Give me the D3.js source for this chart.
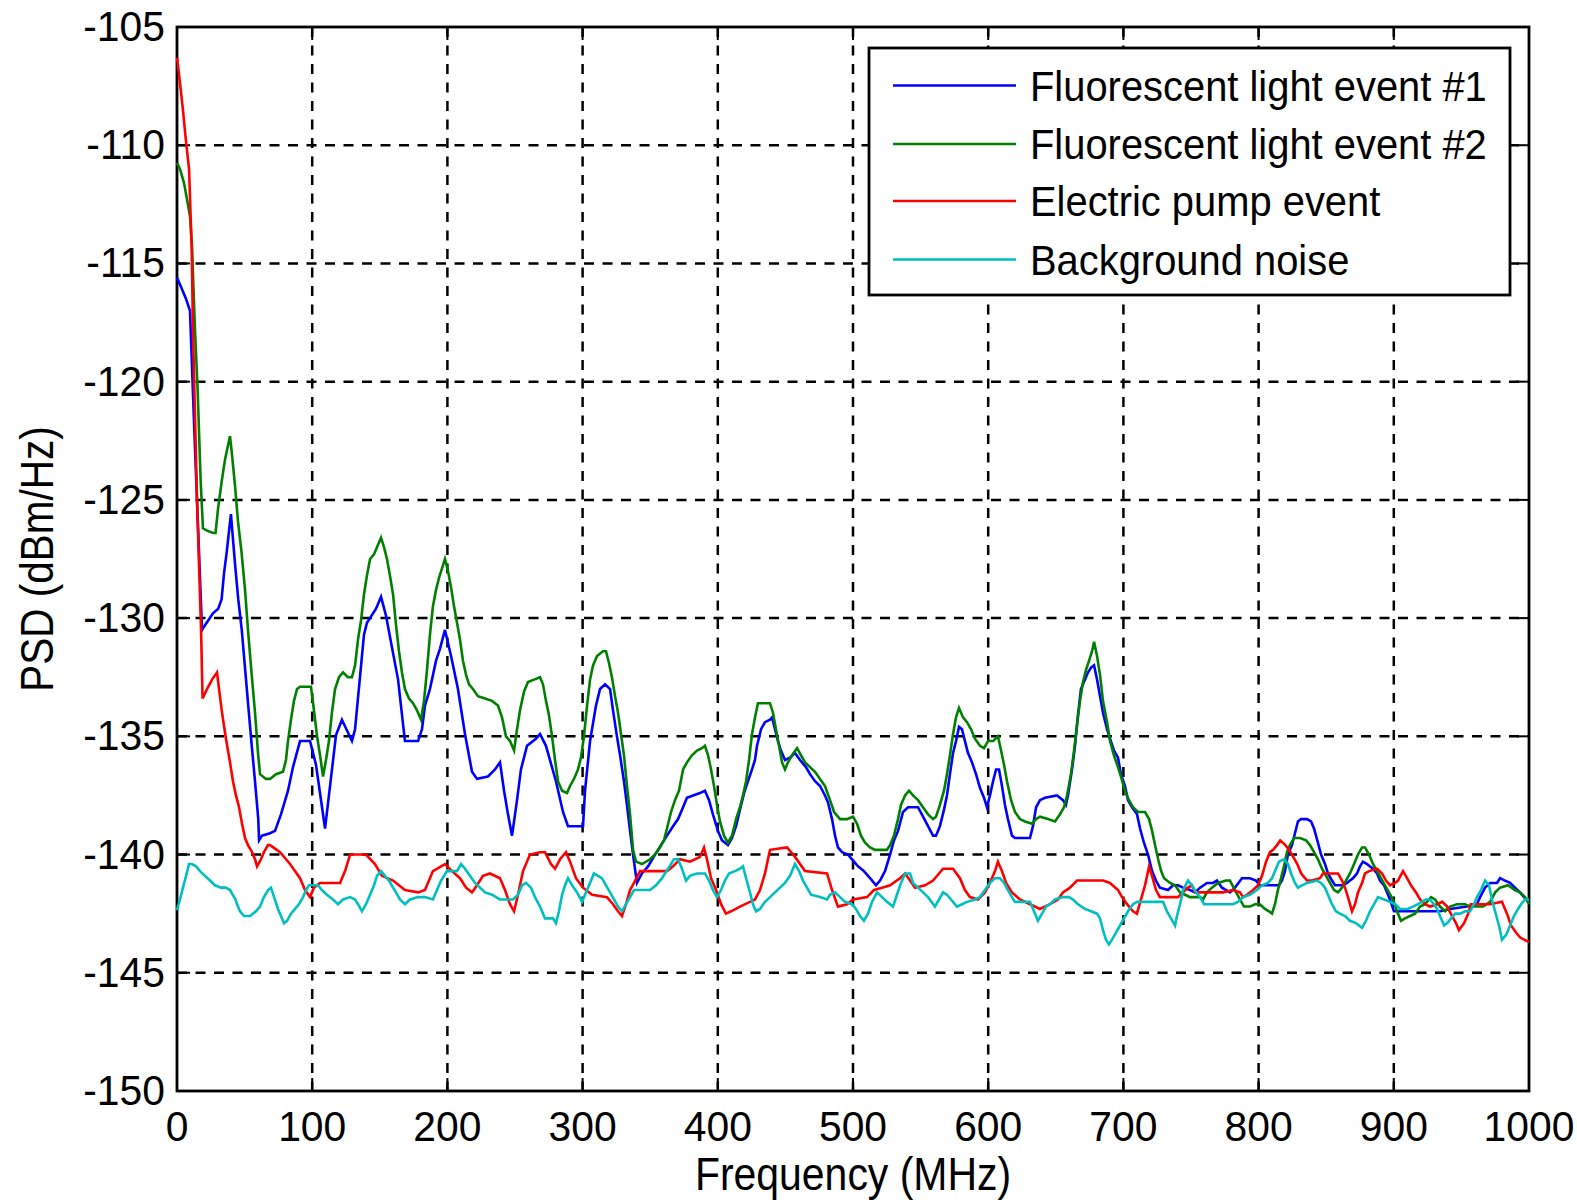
<!DOCTYPE html>
<html>
<head>
<meta charset="utf-8">
<script src="https://cdn.jsdelivr.net/npm/d3@7"></script>
<style>
  html, body { margin: 0; padding: 0; background: #fff; }
  text { font-family: "Liberation Sans", Arial, sans-serif; fill: #000; }
</style>
</head>
<body>
<div id="chart"></div>
<script>
// PSD traces, [MHz, dBm/Hz]
const fluor1 = [[0,-115.6],[3,-116.0],[6.7,-116.5],[9.6,-117.0],[12.9,-122.2],[18.5,-130.5],[20.7,-130.3],[26.6,-129.8],[30.5,-129.6],[33,-129.2],[34.8,-128.1],[36.8,-127.2],[38.7,-126.2],[39.9,-125.6],[42.9,-127.7],[45.3,-129.2],[47.9,-130.5],[50.3,-132.1],[52.7,-133.7],[55.3,-135.4],[57.7,-136.9],[60.1,-138.5],[60.7,-139.4],[62.9,-139.2],[68.8,-139.1],[72.5,-139.0],[76.9,-138.3],[82.1,-137.3],[85.8,-136.3],[91,-135.2],[98.4,-135.2],[102.8,-136.2],[109.5,-138.9],[117.6,-134.95],[122,-134.3],[129.4,-135.2],[131.7,-134.7],[138.3,-130.7],[140.5,-130.2],[147.2,-129.6],[150.9,-129.1],[154.6,-129.9],[163.5,-132.6],[168.6,-135.2],[178.3,-135.2],[181.2,-134.7],[183.4,-133.7],[187.1,-133.0],[191.6,-131.8],[194.5,-131.3],[198.2,-130.5],[202.7,-131.6],[207.8,-133.0],[213,-134.9],[218.2,-136.5],[221.9,-136.8],[230,-136.7],[235.2,-136.4],[238.9,-136.1],[241.9,-137.3],[244.8,-138.3],[247.8,-139.2],[251.5,-137.7],[254.4,-136.4],[258.9,-135.4],[265.5,-135.1],[268.5,-134.9],[272.9,-135.4],[280.3,-136.9],[285.5,-138.2],[289.2,-138.8],[300.3,-138.8],[301.8,-137.3],[305.5,-135.2],[309.9,-133.7],[312.9,-133.0],[316.6,-132.8],[320.3,-133.0],[322.5,-133.9],[325.4,-135.0],[327.7,-135.8],[330.6,-136.9],[332.8,-137.9],[335.1,-139.0],[337.3,-140.0],[340.2,-141.2],[343.9,-140.8],[348.4,-140.5],[353.6,-140.0],[358,-139.6],[362.4,-139.2],[366.9,-138.8],[370.6,-138.5],[374.3,-138.0],[377.2,-137.6],[381.7,-137.5],[386.8,-137.4],[390.5,-137.3],[393.5,-137.7],[396.4,-138.3],[400.1,-139.0],[403.1,-139.4],[407.5,-139.6],[410.5,-139.3],[413.5,-138.8],[416.4,-138.1],[419.4,-137.4],[422.3,-136.9],[425.3,-136.4],[427.5,-136.0],[429,-135.4],[432,-134.7],[434.9,-134.4],[438.6,-134.3],[440.1,-134.2],[442.3,-134.7],[444.5,-135.2],[446.7,-135.6],[449.7,-136.0],[453.4,-135.9],[457.1,-135.7],[460.8,-136.0],[465.2,-136.3],[468.2,-136.6],[471.9,-136.9],[475.6,-137.1],[479.3,-137.5],[481.5,-137.8],[484.5,-138.5],[486.7,-139.2],[488.9,-139.7],[491.9,-139.9],[496.3,-140.0],[499.3,-140.2],[503.7,-140.5],[508.1,-140.7],[512.6,-141.0],[517,-141.3],[520,-141.1],[523.7,-140.7],[527.4,-140.0],[530.3,-139.4],[533.3,-139.0],[537,-138.2],[540.7,-138.0],[548.1,-138.0],[551.8,-138.4],[555.5,-138.8],[559.2,-139.2],[561.4,-139.2],[564.3,-138.8],[567.3,-138.1],[569.5,-137.5],[571.7,-136.6],[574,-135.7],[576.2,-135.2],[578.4,-134.6],[580.6,-134.7],[582.8,-135.2],[585,-135.7],[588,-136.1],[591,-136.6],[594,-137.2],[596.9,-137.6],[599.1,-138.0],[601.3,-137.5],[603.6,-136.9],[605.8,-136.4],[608,-136.4],[610.2,-137.1],[612.4,-137.9],[614.6,-138.5],[617.6,-139.2],[619.8,-139.3],[630.9,-139.3],[633.1,-138.8],[635.4,-138.0],[638.3,-137.7],[642,-137.6],[650.9,-137.5],[655.3,-137.7],[657.5,-137.9],[659,-137.5],[662,-136.4],[664.2,-135.4],[666.4,-134.1],[668.6,-133.0],[671.6,-132.6],[673.8,-132.3],[676,-132.1],[678.3,-132.0],[680.5,-132.6],[682.7,-133.3],[684.9,-134.0],[687.9,-134.7],[690.1,-135.1],[693,-135.6],[696,-135.9],[698.2,-136.6],[701.2,-137.1],[703.4,-137.7],[706.4,-138.0],[710.1,-138.3],[712.3,-138.9],[715.2,-139.5],[718.2,-140.0],[721.2,-140.7],[724.1,-141.1],[727,-141.4],[733,-141.5],[736.7,-141.3],[740.4,-141.3],[744.1,-141.4],[749.3,-141.5],[753,-141.6],[756.7,-141.4],[761.8,-141.2],[766.3,-141.2],[769.2,-141.1],[772.9,-141.4],[778.8,-141.6],[782.5,-141.4],[787.7,-141.0],[793.6,-141.0],[798.1,-141.1],[801,-141.3],[815.1,-141.3],[817.3,-141.1],[819.5,-140.7],[821.7,-140.0],[824.7,-139.6],[826.9,-139.1],[829.1,-138.6],[831.4,-138.5],[835.8,-138.5],[838.8,-138.6],[841,-138.9],[843.9,-139.5],[846.2,-140.0],[849.1,-140.4],[851.3,-140.8],[854.3,-141.1],[856.5,-141.3],[862.4,-141.3],[865.4,-141.2],[867.6,-141.1],[869.8,-141.0],[872.8,-140.8],[875,-140.5],[877.2,-140.3],[880.2,-140.4],[884.6,-140.6],[887.6,-140.8],[889.8,-141.1],[892.8,-141.3],[895,-141.6],[897.2,-141.9],[900.1,-142.4],[926.8,-142.4],[934.2,-142.4],[941.6,-142.3],[954.1,-142.2],[961.5,-142.1],[963.8,-141.8],[967.5,-141.4],[971.2,-141.2],[976.3,-141.2],[978.6,-141.0],[982.2,-141.1],[986,-141.2],[989.6,-141.4],[993.3,-141.6],[996.3,-141.8],[1000,-142.0]];

const fluor2 = [[0,-110.75],[2.2,-111.0],[5.2,-111.6],[7.4,-112.3],[9.6,-113.0],[11.1,-114.3],[13.3,-117.8],[15.3,-120.4],[17.5,-124.2],[19.2,-126.2],[22.2,-126.3],[26.6,-126.4],[28.5,-126.4],[30.3,-125.4],[33.1,-124.2],[35.5,-123.3],[37.7,-122.7],[39.2,-122.3],[40.7,-123.1],[42.9,-124.4],[45.1,-125.9],[47.7,-127.2],[50.3,-128.8],[52.5,-130.5],[55.1,-132.3],[57.7,-134.0],[59.9,-135.7],[61.4,-136.6],[65.8,-136.8],[68.8,-136.8],[73.2,-136.6],[78.4,-136.5],[80.6,-136.0],[82.1,-135.2],[84.3,-134.3],[86.5,-133.5],[88.8,-133.0],[91,-132.9],[99.1,-132.9],[101.3,-133.9],[103.6,-135.0],[105.8,-135.8],[108,-136.7],[110.2,-136.0],[112.4,-135.2],[114.6,-134.0],[116.9,-133.0],[119.8,-132.5],[122.8,-132.3],[126.5,-132.5],[129.4,-132.5],[131.7,-132.0],[133.9,-130.9],[136.1,-130.1],[138.3,-129.0],[140.5,-128.2],[142.8,-127.5],[145.7,-127.3],[148.7,-126.9],[150.9,-126.6],[153.1,-127.0],[155.3,-127.5],[157.5,-128.2],[159.8,-129.0],[162,-130.3],[164.2,-131.4],[166.4,-132.3],[168.6,-133.0],[171.6,-133.4],[174.6,-133.6],[177.5,-133.9],[180.5,-134.3],[182.7,-133.5],[184.9,-132.2],[187.1,-130.7],[189.3,-129.5],[191.6,-128.8],[193.8,-128.3],[196,-127.9],[198.2,-127.5],[200.4,-128.0],[202.7,-128.7],[204.9,-129.5],[207.1,-130.2],[209.3,-130.9],[211.5,-131.8],[213.8,-132.4],[216,-132.8],[218.9,-133.0],[222.6,-133.3],[227.8,-133.4],[233,-133.5],[237.4,-133.7],[240.4,-134.2],[243.3,-135.0],[246.3,-135.2],[249.3,-135.6],[251.5,-134.7],[253.7,-133.9],[256.7,-133.1],[259.6,-132.7],[264.1,-132.6],[268.5,-132.5],[270.7,-132.8],[272.9,-133.5],[275.1,-134.1],[277.4,-135.0],[279.6,-136.0],[281.8,-136.9],[284.8,-137.3],[288.5,-137.4],[290.7,-137.1],[293.6,-136.8],[296.6,-136.4],[298.8,-135.9],[301,-135.0],[303.3,-133.7],[305.5,-132.6],[307.7,-132.0],[310.7,-131.6],[315.1,-131.4],[317.3,-131.4],[319.5,-131.9],[321.7,-132.5],[324,-133.3],[326.2,-134.0],[328.4,-134.9],[330.6,-135.8],[332.8,-137.1],[335.1,-138.3],[337.3,-139.8],[339.5,-140.3],[343.9,-140.4],[349.9,-140.2],[353.6,-140.0],[357.2,-139.7],[360.2,-139.4],[362.4,-138.9],[365.4,-138.2],[368.3,-137.7],[371.3,-137.3],[374.3,-136.4],[377.2,-136.1],[380.9,-135.8],[384.6,-135.6],[388.3,-135.5],[390.5,-135.4],[392.8,-135.8],[395,-136.4],[397.2,-137.1],[399.4,-137.9],[401.6,-138.6],[404.6,-139.2],[407.5,-139.5],[410.5,-139.2],[413.5,-138.5],[416.4,-138.0],[418.6,-137.5],[420.9,-136.9],[423.1,-136.0],[425.3,-134.9],[427.5,-134.2],[429.7,-133.6],[438.6,-133.6],[440.8,-134.0],[443,-134.7],[445.3,-135.4],[447.5,-136.1],[449.7,-136.4],[451.9,-136.1],[454.9,-135.8],[458.6,-135.5],[461.5,-135.8],[464.5,-136.1],[468.2,-136.3],[471.9,-136.5],[475.6,-136.8],[479.3,-137.1],[483,-137.7],[486,-138.2],[490.4,-138.5],[495.6,-138.5],[500,-138.4],[503,-138.7],[505.9,-139.2],[508.9,-139.5],[512.6,-139.7],[516.3,-139.8],[520,-139.8],[525.1,-139.8],[527.4,-139.6],[530.3,-139.2],[533.3,-138.5],[535.5,-137.9],[538.5,-137.5],[541.4,-137.3],[544.4,-137.5],[548.1,-137.7],[551.8,-138.0],[555.5,-138.3],[559.2,-138.5],[561.4,-138.4],[564.3,-137.9],[567.3,-137.3],[569.5,-136.6],[571.7,-135.8],[574,-134.9],[576.2,-134.2],[578.4,-133.8],[581.4,-134.2],[584.3,-134.4],[587.3,-134.7],[590.2,-135.1],[593.9,-135.4],[596.9,-135.5],[599.9,-135.2],[603.6,-135.2],[607.2,-135.0],[609.5,-135.6],[611.7,-136.2],[613.9,-136.9],[616.9,-137.7],[619.8,-138.2],[623.5,-138.5],[627.2,-138.6],[632.4,-138.7],[635.4,-138.5],[638.3,-138.4],[644.2,-138.5],[649.4,-138.6],[653.1,-138.3],[656.1,-138.0],[658.3,-137.5],[661.2,-136.6],[663.5,-135.6],[665.7,-134.5],[667.9,-133.5],[670.1,-132.7],[672.3,-132.2],[674.6,-131.8],[676.8,-131.4],[678.3,-131.0],[680.5,-131.6],[682.7,-132.4],[684.9,-133.5],[687.9,-134.4],[690.1,-135.2],[693,-135.8],[696,-136.3],[698.2,-136.7],[701.2,-137.3],[704.1,-137.7],[707.1,-138.0],[710.8,-138.2],[716,-138.2],[719,-138.5],[721.2,-139.0],[723.4,-139.6],[725.7,-140.2],[727.9,-140.7],[730.1,-141.0],[734.5,-141.2],[738.2,-141.3],[741.9,-141.6],[745.6,-141.7],[749.3,-141.8],[756.7,-141.8],[758.9,-141.9],[761.8,-141.6],[765.5,-141.4],[770,-141.2],[775.9,-141.1],[778.8,-141.1],[782.5,-141.5],[786.2,-141.9],[789.2,-142.2],[793.6,-142.2],[797.3,-142.1],[801,-142.1],[804.7,-142.3],[807.7,-142.4],[809.9,-142.5],[812.1,-142.1],[814.3,-141.5],[816.6,-141.0],[818.8,-140.5],[821,-139.9],[823.2,-139.6],[826.2,-139.3],[830.6,-139.3],[835.1,-139.4],[838,-139.6],[841,-139.9],[843.9,-140.2],[846.9,-140.6],[849.9,-140.9],[852.8,-141.2],[855.8,-141.5],[858.7,-141.6],[861.7,-141.4],[864.6,-141.1],[867.6,-140.8],[870.6,-140.4],[873.5,-140.0],[876.5,-139.7],[878.7,-139.7],[881.7,-140.0],[884.6,-140.4],[887.6,-140.7],[890.5,-141.0],[893.5,-141.3],[896.4,-141.6],[899.4,-141.9],[902.4,-142.4],[905.3,-142.8],[908.3,-142.7],[912,-142.6],[915.7,-142.5],[919.4,-142.2],[923.1,-142.1],[927.5,-141.8],[930.5,-141.9],[934.2,-142.2],[938,-142.4],[941.6,-142.2],[946.7,-142.1],[952.7,-142.1],[956.4,-142.2],[966,-142.2],[971.2,-142.0],[975,-141.6],[978.6,-141.4],[984.5,-141.3],[989.6,-141.5],[993.3,-141.6],[997,-141.8],[1000,-142.1]];

const pump = [[0,-106.3],[1.5,-107.0],[4.2,-108.4],[6.4,-109.7],[8.9,-111.0],[10.9,-114.4],[11.8,-117.8],[14.8,-125.0],[17.8,-130.5],[18.9,-133.4],[22.2,-133.0],[25.9,-132.6],[29.6,-132.3],[31.1,-133.0],[33.3,-134.0],[36.2,-135.1],[39.2,-136.1],[41.4,-136.9],[43.6,-137.5],[45.9,-138.0],[48.1,-138.7],[50.3,-139.3],[52.5,-139.6],[55.5,-139.9],[57.7,-140.2],[59.2,-140.5],[62.1,-140.2],[64.3,-139.9],[67.3,-139.6],[68.8,-139.6],[76.2,-139.9],[83.6,-140.4],[91,-141.0],[94.7,-141.5],[98.4,-141.8],[101.3,-141.4],[105.8,-141.2],[120.6,-141.2],[124.3,-140.7],[128,-140.0],[139.8,-140.0],[146.4,-140.4],[151.6,-140.9],[159.8,-141.1],[168.6,-141.5],[178.3,-141.6],[183.4,-141.5],[189.3,-140.7],[198.2,-140.4],[203.4,-140.7],[209.3,-141.0],[213.8,-141.4],[218.2,-141.6],[221.9,-141.3],[226.3,-140.9],[231.5,-140.8],[238.9,-141.0],[242.6,-141.5],[246.3,-142.1],[249.3,-142.4],[252.2,-141.7],[255.9,-140.7],[261.1,-140.0],[268.5,-139.9],[272.2,-139.9],[276.6,-140.4],[279.6,-140.6],[283.3,-140.2],[287.7,-139.9],[290.7,-140.3],[295.1,-141.0],[300.3,-141.4],[307,-141.7],[318,-141.8],[322.5,-142.1],[326.2,-142.4],[329.1,-142.6],[332.1,-142.1],[335.1,-141.5],[338,-141.2],[342.5,-140.7],[362.4,-140.7],[366.9,-140.5],[372,-140.2],[379.4,-140.3],[386.8,-140.1],[389.8,-139.7],[392,-140.2],[395,-141.0],[398.7,-141.5],[402.4,-142.1],[406,-142.5],[409.8,-142.4],[416.4,-142.2],[423.8,-142.0],[427.5,-141.9],[431.2,-141.5],[434.9,-140.8],[438.6,-139.8],[451.2,-139.7],[457.1,-140.1],[464.5,-140.7],[480.8,-140.8],[484.5,-141.5],[488.9,-142.2],[495.6,-142.1],[500,-141.9],[510.4,-141.8],[515.5,-141.5],[521.5,-141.4],[527.4,-141.3],[534.8,-141.0],[538.5,-140.8],[542.2,-141.1],[545.9,-141.4],[553.3,-141.3],[559.2,-141.1],[566.6,-140.6],[574,-140.6],[579.1,-141.0],[582.8,-141.5],[586.5,-141.8],[592.5,-141.9],[597.6,-141.6],[601.3,-141.2],[605,-140.7],[607.2,-140.3],[610.2,-140.7],[613.2,-141.2],[617.6,-141.6],[623.5,-141.9],[630.9,-142.1],[638.3,-142.3],[645.7,-142.1],[651.6,-141.9],[655.3,-141.6],[660.5,-141.4],[665.7,-141.1],[685,-141.1],[690,-141.2],[696,-141.5],[699,-141.8],[702.7,-142.1],[707.1,-142.4],[710,-142.5],[713,-141.9],[716,-141.3],[719,-140.5],[721.2,-140.9],[724.1,-141.5],[727,-141.8],[740.4,-141.8],[744,-141.6],[747.8,-141.4],[750.7,-141.3],[753,-141.6],[756.7,-141.6],[773.7,-141.6],[781,-141.5],[786.2,-141.6],[788.5,-141.8],[791.4,-141.7],[795.9,-141.5],[799.6,-141.3],[802.5,-140.9],[805.5,-140.3],[808.4,-139.9],[810.7,-139.8],[813.6,-139.6],[816,-139.4],[819.8,-139.6],[822.6,-139.8],[825.6,-140.1],[828.6,-140.4],[831.5,-140.8],[835.8,-141.1],[839.5,-141.1],[845.4,-141.0],[847.6,-140.8],[858.7,-140.8],[861.7,-141.1],[863.9,-141.4],[866.1,-141.8],[869.1,-142.4],[871.3,-142.1],[873.5,-141.6],[876.5,-141.2],[878.7,-140.8],[881.7,-140.7],[887.6,-140.6],[891.3,-140.8],[894.2,-141.1],[897.2,-141.3],[901,-141.2],[903.1,-141.1],[906.8,-140.7],[909.8,-141.0],[912.7,-141.3],[916.4,-141.6],[919.4,-141.9],[923.1,-142.1],[926.8,-142.2],[932,-142.1],[935.8,-142.0],[939.5,-142.2],[943.1,-142.6],[946,-142.9],[948.2,-143.2],[952,-142.9],[955,-142.5],[957,-142.1],[960.2,-142.1],[971.2,-142.1],[980,-142.0],[983.7,-142.5],[986.7,-143.0],[990.4,-143.3],[993.3,-143.5],[996.3,-143.6],[1000,-143.7]];

const noise = [[0,-142.35],[2.2,-141.9],[4.4,-141.4],[6.7,-140.9],[8.9,-140.4],[11.1,-140.4],[14.1,-140.5],[17,-140.7],[20.7,-140.9],[24.4,-141.1],[28.1,-141.3],[32.5,-141.4],[36.2,-141.4],[39.2,-141.5],[43.3,-141.9],[44.4,-142.1],[46.6,-142.4],[49.6,-142.6],[54,-142.6],[58.4,-142.4],[61.4,-142.2],[64.3,-141.8],[67.3,-141.5],[69.5,-141.4],[71.8,-141.8],[74.7,-142.3],[76.9,-142.6],[79.1,-142.9],[81.4,-142.8],[84.3,-142.5],[87.3,-142.3],[90.2,-142.1],[93.2,-141.8],[95.4,-141.5],[97.6,-141.3],[104.3,-141.3],[107.2,-141.5],[110.9,-141.7],[115.4,-141.9],[119.1,-142.1],[122.8,-141.9],[128,-141.8],[131.7,-141.9],[133.9,-142.1],[136.8,-142.4],[139.8,-142.1],[142.8,-141.7],[145.7,-141.3],[147.9,-140.9],[150.9,-140.7],[153.8,-140.9],[156.8,-141.1],[159.8,-141.4],[162,-141.6],[164.9,-141.9],[168.6,-142.1],[172.3,-141.9],[178.3,-141.8],[183.4,-141.8],[189.3,-141.9],[192.3,-141.5],[195.3,-141.1],[199.7,-140.7],[207.1,-140.7],[210.1,-140.4],[213,-140.6],[216.7,-140.9],[220.4,-141.2],[224.1,-141.4],[227.8,-141.6],[233,-141.7],[238.9,-141.9],[248.5,-141.9],[252.2,-141.7],[255.2,-141.3],[258.1,-141.2],[261.8,-141.4],[264.8,-141.8],[268.5,-142.2],[272.2,-142.7],[278.1,-142.7],[280.3,-142.9],[282.5,-142.4],[284.8,-141.7],[287,-141.3],[289.2,-141.0],[292.2,-141.3],[295.9,-141.6],[299.6,-142.0],[302.5,-141.6],[305.5,-141.2],[308.4,-140.8],[311.4,-140.9],[314.3,-141.0],[317.3,-141.3],[320.3,-141.6],[323.2,-141.9],[326.2,-142.2],[329.1,-142.4],[332.1,-142.1],[335.1,-141.8],[338,-141.5],[349.9,-141.5],[354.3,-141.3],[358.7,-141.0],[363.2,-140.6],[367.6,-140.2],[370.6,-140.2],[373.5,-140.6],[376.5,-141.1],[379.4,-140.9],[384.6,-140.8],[390.5,-140.8],[393.5,-141.1],[396.4,-141.5],[399.4,-141.8],[402.4,-141.5],[405.3,-141.1],[408.3,-140.8],[412.7,-140.7],[416.4,-140.6],[418.6,-140.5],[420.9,-141.0],[423.8,-141.6],[426,-142.1],[428.3,-142.4],[431.2,-142.3],[434.9,-142.0],[438.6,-141.8],[442.3,-141.6],[446,-141.4],[449.7,-141.2],[453.4,-140.9],[457.1,-140.4],[460.1,-140.7],[463,-141.1],[466,-141.4],[468.9,-141.7],[475.6,-141.8],[480.8,-141.9],[482.9,-141.7],[486.7,-141.6],[490.4,-141.8],[494.1,-142.0],[499.3,-142.1],[502.2,-142.3],[505.2,-142.6],[508.1,-142.8],[511.1,-142.5],[514.1,-142.0],[517.8,-141.6],[521.5,-141.8],[525.1,-142.0],[529.6,-142.2],[532.5,-141.7],[535.5,-141.2],[538.5,-140.8],[542.2,-140.8],[544.4,-141.2],[548.1,-141.4],[551.8,-141.6],[555.5,-141.8],[560.6,-142.2],[563.6,-141.9],[566.6,-141.6],[569.5,-141.7],[572.5,-141.9],[576.9,-142.2],[580.6,-142.1],[584.3,-142.0],[590.2,-141.9],[593.9,-141.8],[597.6,-141.5],[601.3,-141.2],[605,-141.0],[608.7,-141.0],[611.7,-141.2],[614.6,-141.5],[617.6,-141.8],[619.8,-142.0],[630.9,-142.0],[633.9,-142.4],[636.8,-142.8],[639.8,-142.5],[642.8,-142.2],[645.7,-142.1],[649.4,-141.9],[655.3,-141.8],[659.8,-141.8],[662.7,-141.9],[666.4,-142.1],[671.6,-142.3],[676,-142.4],[680.5,-142.5],[682.7,-142.7],[684.9,-143.2],[687.1,-143.6],[689.3,-143.8],[691.6,-143.6],[694.5,-143.3],[697.5,-143.0],[700.4,-142.7],[703.4,-142.4],[707.1,-142.1],[710.1,-142.0],[729.3,-142.0],[732.2,-142.4],[735.2,-142.7],[738.2,-143.0],[739.6,-142.6],[741.9,-142.1],[744.1,-141.5],[747.8,-141.1],[750.7,-141.3],[753.7,-141.6],[756.7,-141.8],[759.6,-142.1],[764,-142.1],[781,-142.1],[784.8,-142.0],[788.5,-141.8],[793.6,-141.7],[798.8,-141.5],[802.5,-141.3],[806.9,-141.2],[809.9,-141.0],[812.1,-140.7],[815.1,-140.3],[818.8,-140.2],[821.7,-140.4],[824,-140.8],[826.9,-141.2],[829.1,-141.4],[832.1,-141.3],[835.8,-141.2],[843.2,-141.1],[846.2,-141.2],[849.1,-141.4],[851.3,-141.7],[854.3,-142.1],[857.2,-142.4],[860.2,-142.5],[863.9,-142.6],[867.6,-142.8],[872,-142.9],[876.5,-143.1],[879.4,-142.8],[882.4,-142.4],[885.4,-142.1],[888.3,-141.8],[892.8,-141.9],[897.2,-142.0],[901,-142.1],[904.6,-142.3],[910.5,-142.3],[914.2,-142.2],[917.9,-142.1],[920.9,-142.0],[923.8,-141.9],[926.8,-141.9],[929.7,-142.1],[932,-142.3],[934.2,-142.6],[937.2,-143.0],[939.5,-142.9],[942.4,-142.7],[945.4,-142.5],[949.1,-142.5],[952.7,-142.4],[956.4,-142.4],[959.3,-142.1],[961.5,-141.8],[964.5,-141.5],[967.5,-141.1],[970.4,-141.3],[972.6,-141.9],[974.9,-142.4],[977.8,-143.0],[980,-143.6],[983,-143.4],[986,-143.0],[988.9,-142.6],[991.9,-142.3],[994.1,-142.1],[997,-141.9],[1000,-141.9]];

const seriesNames = ["Fluorescent light event #1", "Fluorescent light event #2", "Electric pump event", "Background noise"];
const seriesColors = ["#0000ff", "#008000", "#ff0000", "#00bfbf"];
const xTicks = [0, 100, 200, 300, 400, 500, 600, 700, 800, 900, 1000];
const yTicks = [-105, -110, -115, -120, -125, -130, -135, -140, -145, -150];
const xLabel = "Frequency (MHz)";
const yLabel = "PSD (dBm/Hz)";

const W = 1577, H = 1203;
const margin = { top: 27, right: 48, bottom: 112, left: 177 };
const width = W - margin.left - margin.right;
const height = H - margin.top - margin.bottom;

const svg = d3.select("#chart").append("svg")
  .attr("width", W)
  .attr("height", H)
  .style("display", "block");

svg.append("rect").attr("width", W).attr("height", H).attr("fill", "#fff");

const g = svg.append("g").attr("transform", `translate(${margin.left},${margin.top})`);

const x = d3.scaleLinear().domain([0, 1000]).range([0, width]);
const y = d3.scaleLinear().domain([-150, -105]).range([height, 0]);

// dashed grid
g.append("g")
  .selectAll("line")
  .data(xTicks.slice(1, -1))
  .join("line")
  .attr("x1", d => x(d)).attr("x2", d => x(d))
  .attr("y1", 0).attr("y2", height)
  .attr("stroke", "#000").attr("stroke-width", 2.5)
  .attr("stroke-dasharray", "10,8.5");

g.append("g")
  .selectAll("line")
  .data(yTicks.slice(1, -1))
  .join("line")
  .attr("x1", 0).attr("x2", width)
  .attr("y1", d => y(d)).attr("y2", d => y(d))
  .attr("stroke", "#000").attr("stroke-width", 2.5)
  .attr("stroke-dasharray", "10,8.5");

// inward ticks on all four sides
const tickLen = 13;
const ticks = g.append("g").attr("stroke", "#000").attr("stroke-width", 2);
xTicks.forEach(t => {
  ticks.append("line").attr("x1", x(t)).attr("x2", x(t)).attr("y1", height).attr("y2", height - tickLen);
  ticks.append("line").attr("x1", x(t)).attr("x2", x(t)).attr("y1", 0).attr("y2", tickLen);
});
yTicks.forEach(t => {
  ticks.append("line").attr("x1", 0).attr("x2", tickLen).attr("y1", y(t)).attr("y2", y(t));
  ticks.append("line").attr("x1", width).attr("x2", width - tickLen).attr("y1", y(t)).attr("y2", y(t));
});

// box
g.append("rect")
  .attr("width", width).attr("height", height)
  .attr("fill", "none").attr("stroke", "#000").attr("stroke-width", 2.8);

// traces
const line = d3.line().x(d => x(d[0])).y(d => y(d[1]));
const allSeries = [fluor1, fluor2, pump, noise];

g.append("clipPath").attr("id", "plotclip")
  .append("rect").attr("x", -2).attr("y", -2).attr("width", width + 4).attr("height", height + 4);

g.append("g").attr("clip-path", "url(#plotclip)")
  .selectAll("path")
  .data(allSeries)
  .join("path")
  .attr("d", line)
  .attr("fill", "none")
  .attr("stroke", (d, i) => seriesColors[i])
  .attr("stroke-width", 2.6)
  .attr("stroke-linejoin", "miter");

// text helper: slightly narrow glyphs like the original
function label(parent, txt, tx, ty, size, anchor, sx, rot) {
  return parent.append("text")
    .attr("transform", `translate(${tx},${ty})` + (rot ? ` rotate(${rot})` : "") + ` scale(${sx},1)`)
    .attr("text-anchor", anchor)
    .style("font-size", size + "px")
    .text(txt);
}

// tick labels
xTicks.forEach(t => label(svg, t, margin.left + x(t), 1141, 43, "middle", 0.95));
yTicks.forEach(t => label(svg, t, 165, margin.top + y(t) + 14, 43, "end", 0.95));

// axis labels
label(svg, xLabel, margin.left + width / 2, 1190, 46, "middle", 0.89);
label(svg, yLabel, 53, margin.top + height / 2, 46, "middle", 0.88, -90);

// legend
const lg = svg.append("g");
lg.append("rect")
  .attr("x", 869).attr("y", 48).attr("width", 641).attr("height", 247)
  .attr("fill", "#fff").attr("stroke", "#000").attr("stroke-width", 2.8);

const rowY = [85.5, 144, 201, 259.5];
seriesNames.forEach((name, i) => {
  lg.append("line")
    .attr("x1", 893).attr("x2", 1016)
    .attr("y1", rowY[i]).attr("y2", rowY[i])
    .attr("stroke", seriesColors[i]).attr("stroke-width", 2.6);
  label(lg, name, 1030, rowY[i] + 15, 42, "start", 0.95);
});
</script>
</body>
</html>
